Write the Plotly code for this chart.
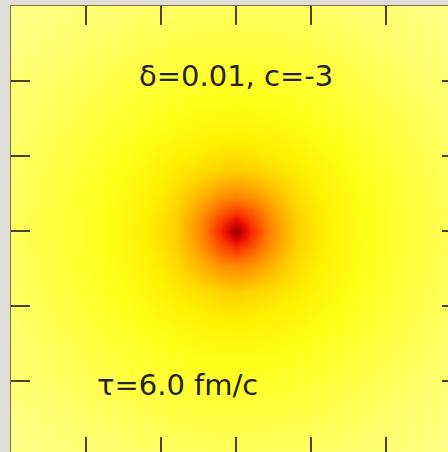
import plotly.graph_objects as go

# grid node coordinates (fm)
x_nodes = [-3, -2, -1.3, -0.8, -0.45, -0.2, 0, 0.2, 0.45, 0.8, 1.3, 2, 3]
y_nodes = [-3, -2, -1.3, -0.8, -0.45, -0.2, 0, 0.2, 0.45, 0.8, 1.3, 2, 3]

# normalised intensity (1 = dark red centre)
row_3 = [0.02, 0.07, 0.095, 0.11, 0.117, 0.12, 0.12, 0.12, 0.117, 0.11, 0.095, 0.07, 0.02]
row_2 = [0.07, 0.135, 0.185, 0.21, 0.224, 0.229, 0.23, 0.229, 0.224, 0.21, 0.185, 0.135, 0.07]
row_13 = [0.095, 0.185, 0.25, 0.29, 0.31, 0.318, 0.32, 0.318, 0.31, 0.29, 0.25, 0.185, 0.095]
row_08 = [0.11, 0.21, 0.29, 0.35, 0.38, 0.40, 0.41, 0.40, 0.38, 0.35, 0.29, 0.21, 0.11]
row_045 = [0.117, 0.224, 0.31, 0.38, 0.47, 0.54, 0.56, 0.54, 0.47, 0.38, 0.31, 0.224, 0.117]
row_02 = [0.12, 0.229, 0.318, 0.40, 0.54, 0.68, 0.76, 0.68, 0.54, 0.40, 0.318, 0.229, 0.12]
row_0 = [0.12, 0.23, 0.32, 0.41, 0.56, 0.76, 1.0, 0.76, 0.56, 0.41, 0.32, 0.23, 0.12]

z_grid = [row_3, row_2, row_13, row_08, row_045, row_02, row_0,
          row_02, row_045, row_08, row_13, row_2, row_3]

tick_vals = [-2, -1, 0, 1, 2]
label_top = "δ=0.01, c=-3"
label_bottom = "τ=6.0 fm/c"

colorscale = [
    [0.00, "#ffff92"],
    [0.10, "#ffff6a"],
    [0.18, "#ffff40"],
    [0.26, "#ffff18"],
    [0.34, "#fff000"],
    [0.43, "#ffc400"],
    [0.53, "#ff9400"],
    [0.66, "#ff5400"],
    [0.78, "#f01c00"],
    [0.90, "#cc0000"],
    [1.00, "#880000"],
]

fig = go.Figure()
fig.add_trace(go.Heatmap(
    x=x_nodes, y=y_nodes, z=z_grid,
    zmin=0, zmax=1, zsmooth="best",
    colorscale=colorscale, showscale=False,
))
# invisible trace to carry secondary axes
fig.add_trace(go.Scatter(x=[0], y=[0], xaxis="x2", yaxis="y2",
                         mode="markers", marker=dict(opacity=0),
                         hoverinfo="skip", showlegend=False))

W, H = 448, 452
ml, mt = 11, 6
px_per_unit = 75.0
x_range = [-3, -3 + (W - ml) / px_per_unit]
y_range = [3 - (H - mt) / px_per_unit, 3]

tick_col = "#4a4424"
common = dict(showgrid=False, zeroline=False, showticklabels=False,
              tickvals=tick_vals, ticks="inside", tickcolor=tick_col,
              tickwidth=2, fixedrange=True)

fig.update_layout(
    width=W, height=H,
    margin=dict(l=ml, r=0, t=mt, b=0, pad=0),
    paper_bgcolor="#e0ded9",
    plot_bgcolor="#ffff80",
    showlegend=False,
    xaxis=dict(range=x_range, side="top", ticklen=19, showline=True,
               linecolor="#7c7440", linewidth=1, **common),
    yaxis=dict(range=y_range, side="left", ticklen=19, showline=True,
               linecolor="#7c7440", linewidth=1, **common),
    xaxis2=dict(range=x_range, overlaying="x", side="bottom", ticklen=15,
                showline=False, **common),
    yaxis2=dict(range=y_range, overlaying="y", side="right", ticklen=6,
                showline=False, **common),
    annotations=[
        dict(x=0, y=2.07, xref="x", yref="y", text=label_top, showarrow=False,
             xanchor="center", yanchor="middle",
             font=dict(family="DejaVu Sans", size=29, color="#23231c")),
        dict(x=-3 + (95 - ml) / px_per_unit, y=-2.05, xref="x", yref="y",
             text=label_bottom, showarrow=False, xanchor="left", yanchor="middle",
             font=dict(family="DejaVu Sans", size=29, color="#23231c")),
    ],
)

fig.write_html("out.html", config={"displayModeBar": False})
